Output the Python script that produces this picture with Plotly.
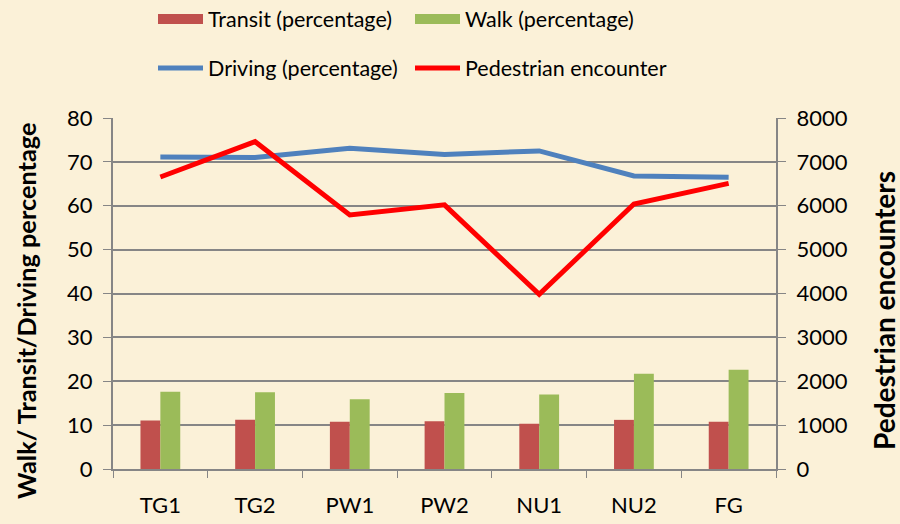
import plotly.graph_objects as go

categories = ["TG1", "TG2", "PW1", "PW2", "NU1", "NU2", "FG"]
transit_pct = [11.05, 11.2, 10.75, 10.9, 10.3, 11.2, 10.75]
walk_pct = [17.6, 17.5, 15.9, 17.3, 17.0, 21.7, 22.6]
driving_pct = [71.1, 71.0, 73.1, 71.7, 72.5, 66.8, 66.5]
pedestrian_encounters = [6655, 7460, 5790, 6020, 3980, 6040, 6510]

FONT = "Lato"
GRID = "#868686"
BG = "#FBF1D8"
TRANSIT_C = "#C0504D"
WALK_C = "#9BBB59"

fig = go.Figure()
fig.add_trace(go.Bar(x=categories, y=transit_pct, name="Transit (percentage)",
                     marker=dict(color=TRANSIT_C, line=dict(width=0)), showlegend=False))
fig.add_trace(go.Bar(x=categories, y=walk_pct, name="Walk (percentage)",
                     marker=dict(color=WALK_C, line=dict(width=0)), showlegend=False))
# legend-only entries with wide rectangular swatches for the bar series
fig.add_trace(go.Scatter(x=[None], y=[None], name="Transit (percentage)", mode="lines",
                         line=dict(color=TRANSIT_C, width=14), legend="legend"))
fig.add_trace(go.Scatter(x=[None], y=[None], name="Walk (percentage)", mode="lines",
                         line=dict(color=WALK_C, width=14), legend="legend2"))
fig.add_trace(go.Scatter(x=categories, y=driving_pct, name="Driving (percentage)", mode="lines",
                         line=dict(color="#4F81BD", width=5), legend="legend3"))
fig.add_trace(go.Scatter(x=categories, y=pedestrian_encounters, name="Pedestrian encounter", mode="lines",
                         line=dict(color="#FF0000", width=5), yaxis="y2", legend="legend4"))

legend_common = dict(orientation="h", xref="paper", yref="container", xanchor="left", yanchor="middle",
                     font=dict(family=FONT, size=21.5, color="#000"), bgcolor="rgba(0,0,0,0)",
                     itemwidth=45)


def px_x(px):
    return (px - 113) / 663


def px_y(py):
    return 1 - (py - 118) / (469 - 118)


fig.update_layout(
    width=900, height=524,
    paper_bgcolor=BG, plot_bgcolor="rgba(0,0,0,0)",
    margin=dict(l=113, r=124, t=118, b=55, autoexpand=False),
    barmode="group", bargap=0.58, bargroupgap=0,
    font=dict(family=FONT, size=22, color="#000"),
    legend=dict(x=px_x(153), y=1 - 19 / 524, **legend_common),
    legend2=dict(x=px_x(410), y=1 - 19 / 524, **legend_common),
    legend3=dict(x=px_x(153), y=1 - 68 / 524, **legend_common),
    legend4=dict(x=px_x(410), y=1 - 68 / 524, **legend_common),
    xaxis=dict(type="category", tickson="boundaries", ticks="outside", ticklen=7, tickcolor=GRID,
               showline=True, linecolor=GRID, linewidth=2, showgrid=False, automargin=False,
               ticklabelstandoff=16, tickfont=dict(family=FONT, size=22)),
    yaxis=dict(range=[0, 80], dtick=10, ticks="outside", ticklen=8, tickcolor=GRID, automargin=False,
               showline=True, linecolor=GRID, linewidth=2, showgrid=True, gridcolor=GRID, gridwidth=2,
               zeroline=False, ticklabelstandoff=6, tickfont=dict(family=FONT, size=22)),
    yaxis2=dict(range=[0, 8000], dtick=1000, overlaying="y", side="right", ticks="outside", ticklen=8,
                tickcolor=GRID, showline=True, linecolor=GRID, linewidth=2, showgrid=False, automargin=False,
                zeroline=False, ticklabelstandoff=6, tickfont=dict(family=FONT, size=22)),
    annotations=[
        dict(text="<b>Walk/ Transit/Driving percentage</b>", textangle=-90,
             x=px_x(26), y=px_y(311), xanchor="center", yanchor="middle",
             xref="paper", yref="paper", showarrow=False, font=dict(family=FONT, size=25.3)),
        dict(text="<b>Pedestrian encounters</b>", textangle=-90,
             x=px_x(884), y=px_y(311), xanchor="center", yanchor="middle",
             xref="paper", yref="paper", showarrow=False, font=dict(family=FONT, size=28)),
    ],
)

fig.write_html("out.html", config={"displayModeBar": False},
               post_script=f"document.body.style.margin='0';document.body.style.background='{BG}';")
